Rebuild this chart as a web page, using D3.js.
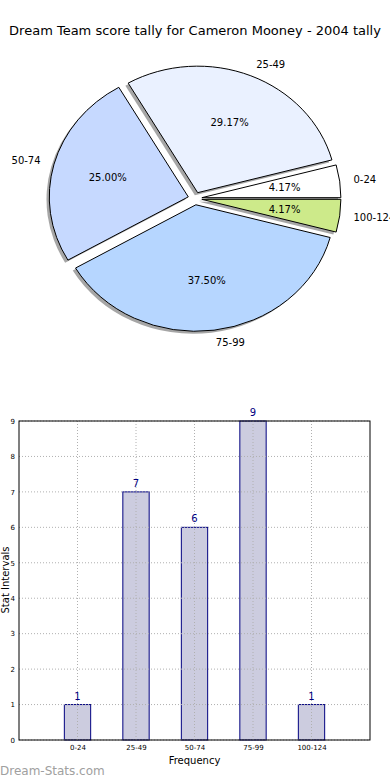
<!DOCTYPE html>
<html>
<head>
<meta charset="utf-8">
<script src="https://cdn.jsdelivr.net/npm/d3@7"></script>
<style>
  body { margin: 0; background: #fff; }
  text { font-family: "DejaVu Sans", sans-serif; }
</style>
</head>
<body>
<svg id="chart" width="390" height="780"></svg>
<script>
// chart data
var categories = ['0-24', '25-49', '50-74', '75-99', '100-124'];
var counts = [1, 7, 6, 9, 1];
var sliceColors = ['#ffffff', '#eaf1ff', '#c6d9ff', '#b6d6ff', '#cdea8a'];
var yTicks = [0, 1, 2, 3, 4, 5, 6, 7, 8, 9];

var svg = d3.select('#chart');

svg.append('text')
  .attr('x', 195).attr('y', 35)
  .attr('text-anchor', 'middle')
  .style('font-size', '13px')
  .text('Dream Team score tally for Cameron Mooney - 2004 tally');

// ---- pie (matplotlib style, stretched to an ellipse) ----
var cx = 195, cy = 198.5, rx = 139, ry = 126.5;
var explode = 0.05;
var R = 100; // base radius, scaled into the ellipse

// counterclockwise from 3 o'clock, like matplotlib
var pie = d3.pie().sort(null).startAngle(Math.PI / 2).endAngle(Math.PI / 2 - 2 * Math.PI);
var arcs = pie(counts);
var arc = d3.arc().innerRadius(0).outerRadius(R);
var total = d3.sum(counts);

function mid(d) { return (d.startAngle + d.endAngle) / 2; }
function pt(d, f) {
  var a = mid(d);
  return [cx + rx * f * Math.sin(a), cy - ry * f * Math.cos(a)];
}

var pieG = svg.append('g');

// shadows first
pieG.selectAll('path.shadow')
  .data(arcs).enter().append('path')
  .attr('class', 'shadow')
  .attr('transform', function(d) {
    var p = pt(d, explode);
    return 'translate(' + (p[0] - 0.02 * rx) + ',' + (p[1] + 0.02 * ry) + ') scale(' + rx / R + ',' + ry / R + ')';
  })
  .attr('d', arc)
  .attr('fill', '#4d4d4d')
  .attr('fill-opacity', 0.5);

pieG.selectAll('path.slice')
  .data(arcs).enter().append('path')
  .attr('class', 'slice')
  .attr('transform', function(d) {
    var p = pt(d, explode);
    return 'translate(' + p[0] + ',' + p[1] + ') scale(' + rx / R + ',' + ry / R + ')';
  })
  .attr('d', arc)
  .attr('fill', function(d, i) { return sliceColors[i]; })
  .attr('stroke', '#000')
  .attr('stroke-width', 1)
  .attr('vector-effect', 'non-scaling-stroke');

// outside labels
pieG.selectAll('text.lbl')
  .data(arcs).enter().append('text')
  .attr('class', 'lbl')
  .attr('x', function(d) { return pt(d, 1.1 + explode)[0]; })
  .attr('y', function(d) { return pt(d, 1.1 + explode)[1]; })
  .attr('dy', '0.35em')
  .attr('text-anchor', function(d) { return Math.sin(mid(d)) >= 0 ? 'start' : 'end'; })
  .style('font-size', '10px')
  .text(function(d, i) { return categories[i]; });

// percentages
pieG.selectAll('text.pct')
  .data(arcs).enter().append('text')
  .attr('class', 'pct')
  .attr('x', function(d) { return pt(d, 0.6 + explode)[0]; })
  .attr('y', function(d) { return pt(d, 0.6 + explode)[1]; })
  .attr('dy', '0.35em')
  .attr('text-anchor', 'middle')
  .style('font-size', '10px')
  .text(function(d) { return (d.value / total * 100).toFixed(2) + '%'; });

// ---- bar chart ----
var plotL = 19, plotR = 370, plotT = 421, plotB = 740;
var x = d3.scaleLinear().domain([-1, 5]).range([plotL, plotR]);
var y = d3.scaleLinear().domain([0, 9]).range([plotB, plotT]);
var barW = x(0.45) - x(0);

var barG = svg.append('g');

barG.selectAll('rect.bar')
  .data(counts).enter().append('rect')
  .attr('class', 'bar')
  .attr('x', function(d, i) { return x(i) - barW / 2; })
  .attr('y', function(d) { return y(d); })
  .attr('width', barW)
  .attr('height', function(d) { return y(0) - y(d); })
  .attr('fill', '#ccccdf')
  .attr('stroke', '#000080')
  .attr('stroke-width', 1);

// grid on top of bars
barG.selectAll('line.hgrid')
  .data(yTicks).enter().append('line')
  .attr('x1', plotL).attr('x2', plotR)
  .attr('y1', function(d) { return y(d); })
  .attr('y2', function(d) { return y(d); })
  .attr('stroke', '#b0b0b0')
  .attr('stroke-dasharray', '1,2');

barG.selectAll('line.vgrid')
  .data(categories).enter().append('line')
  .attr('x1', function(d, i) { return x(i); })
  .attr('x2', function(d, i) { return x(i); })
  .attr('y1', plotT).attr('y2', plotB)
  .attr('stroke', '#b0b0b0')
  .attr('stroke-dasharray', '1,2');

barG.append('rect')
  .attr('x', plotL).attr('y', plotT)
  .attr('width', plotR - plotL).attr('height', plotB - plotT)
  .attr('fill', 'none').attr('stroke', '#000').attr('stroke-width', 1);

var yAxis = d3.axisLeft(y).tickValues(yTicks).tickSize(0).tickPadding(4);
barG.append('g')
  .attr('transform', 'translate(' + plotL + ',0)')
  .call(yAxis)
  .call(function(g) { g.select('.domain').remove(); })
  .selectAll('text')
  .style('font-size', '7px')
  .style('font-family', '"DejaVu Sans", sans-serif')
  .attr('fill', '#000');

var xAxis = d3.axisBottom(x).tickValues([0, 1, 2, 3, 4])
  .tickFormat(function(d) { return categories[d]; })
  .tickSize(0).tickPadding(5);
barG.append('g')
  .attr('transform', 'translate(0,' + plotB + ')')
  .call(xAxis)
  .call(function(g) { g.select('.domain').remove(); })
  .selectAll('text')
  .style('font-size', '7px')
  .style('font-family', '"DejaVu Sans", sans-serif')
  .attr('fill', '#000');

barG.selectAll('text.val')
  .data(counts).enter().append('text')
  .attr('class', 'val')
  .attr('x', function(d, i) { return x(i); })
  .attr('y', function(d) { return y(d) - 5; })
  .attr('text-anchor', 'middle')
  .attr('fill', '#000080')
  .style('font-size', '10px')
  .text(function(d) { return d; });

svg.append('text')
  .attr('x', x(2)).attr('y', 764)
  .attr('text-anchor', 'middle')
  .style('font-size', '10px')
  .text('Frequency');

svg.append('text')
  .attr('transform', 'translate(5,580) rotate(-90)')
  .attr('dy', '0.35em')
  .attr('text-anchor', 'middle')
  .style('font-size', '10px')
  .text('Stat Intervals');

svg.append('text')
  .attr('x', 0).attr('y', 775)
  .attr('fill', '#a0a0a0')
  .style('font-size', '12px')
  .text('Dream-Stats.com');
</script>
</body>
</html>
